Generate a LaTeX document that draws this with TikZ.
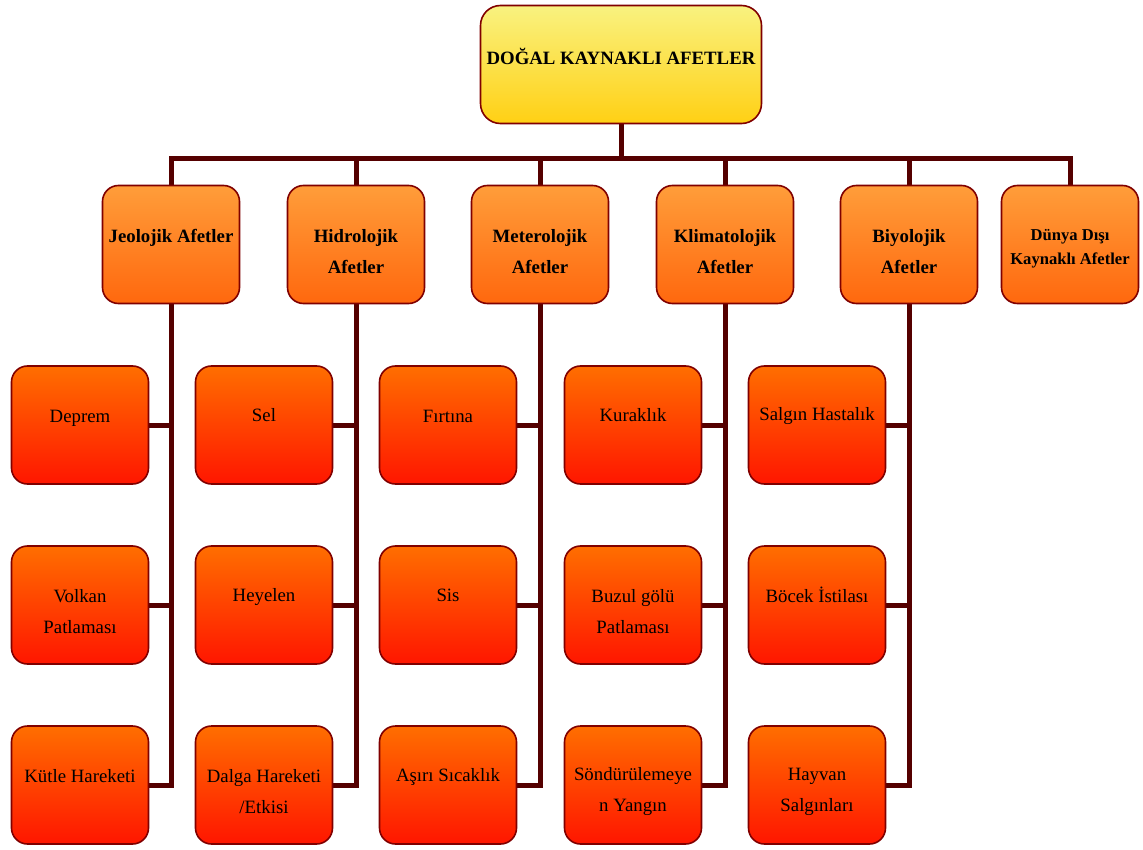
\documentclass[tikz,border=0pt]{standalone}
\usepackage{fontspec}
\setmainfont{Liberation Serif}
\usetikzlibrary{backgrounds}
\definecolor{edgecol}{RGB}{128,0,0}
\definecolor{conncol}{RGB}{85,0,0}
\definecolor{topA}{RGB}{249,242,128}
\definecolor{topB}{RGB}{255,208,20}
\definecolor{midA}{RGB}{255,157,58}
\definecolor{midB}{RGB}{255,104,14}
\definecolor{lowA}{RGB}{255,110,0}
\definecolor{lowB}{RGB}{255,22,0}
\tikzset{
  basebox/.style={draw=edgecol, line width=1.6pt, rounded corners=16pt, minimum width=137pt, minimum height=118pt, inner sep=0pt},
  rootbox/.style={basebox, rounded corners=20pt, minimum width=281pt, top color=topA, bottom color=topB},
  catbox/.style={basebox, top color=midA, bottom color=midB},
  itembox/.style={basebox, top color=lowA, bottom color=lowB},
  lbl/.style={inner sep=0pt, align=center, font=\fontsize{18.8}{31}\selectfont},
  blbl/.style={lbl, font=\fontsize{18.8}{31}\selectfont\bfseries},
  slbl/.style={lbl, font=\fontsize{16.6}{24}\selectfont\bfseries},
  conn/.style={draw=conncol, line width=5pt, line join=miter},
}
\begin{document}
\begin{tikzpicture}[x=1pt, y=-1pt]
\useasboundingbox (0,0) rectangle (1143,850);
% root
\node[rootbox] (root) at (621,64.5) {};
\node[blbl] (root-t) at (621,56.5) {DOĞAL KAYNAKLI AFETLER};
% categories
\node[catbox] (jeo) at (171,244.5) {};
\node[blbl] (jeo-t) at (171,238) {Jeolojik Afetler};
\node[catbox] (hid) at (356,244.5) {};
\node[blbl] (hid-t) at (356,251.5) {Hidrolojik\\Afetler};
\node[catbox] (met) at (540,244.5) {};
\node[blbl] (met-t) at (540,251.5) {Meterolojik\\Afetler};
\node[catbox] (kli) at (725,244.5) {};
\node[blbl] (kli-t) at (725,251.5) {Klimatolojik\\Afetler};
\node[catbox] (biy) at (909,244.5) {};
\node[blbl] (biy-t) at (909,251.5) {Biyolojik\\Afetler};
\node[catbox] (dun) at (1070,244.5) {};
\node[slbl] (dun-t) at (1070,249) {Dünya Dışı\\Kaynaklı Afetler};
% items: Jeolojik
\node[itembox] (dep) at (80,425) {};
\node[lbl] (dep-t) at (80,418) {Deprem};
\node[itembox] (vol) at (80,605) {};
\node[lbl] (vol-t) at (80,611.5) {Volkan\\Patlaması};
\node[itembox] (kut) at (80,785) {};
\node[lbl] (kut-t) at (80,776) {Kütle Hareketi};
% Hidrolojik
\node[itembox] (sel) at (264,425) {};
\node[lbl] (sel-t) at (264,415.5) {Sel};
\node[itembox] (hey) at (264,605) {};
\node[lbl] (hey-t) at (264,597) {Heyelen};
\node[itembox] (dal) at (264,785) {};
\node[lbl] (dal-t) at (264,791.5) {Dalga Hareketi\\/Etkisi};
% Meterolojik
\node[itembox] (fir) at (448,425) {};
\node[lbl] (fir-t) at (448,416.5) {Fırtına};
\node[itembox] (sis) at (448,605) {};
\node[lbl] (sis-t) at (448,595.5) {Sis};
\node[itembox] (asi) at (448,785) {};
\node[lbl] (asi-t) at (448,777) {Aşırı Sıcaklık};
% Klimatolojik
\node[itembox] (kur) at (633,425) {};
\node[lbl] (kur-t) at (633,415.5) {Kuraklık};
\node[itembox] (buz) at (633,605) {};
\node[lbl] (buz-t) at (633,611.5) {Buzul gölü\\Patlaması};
\node[itembox] (son) at (633,785) {};
\node[lbl] (son-t) at (633,791.5) {Söndürülemeye\\n Yangın};
% Biyolojik
\node[itembox] (sal) at (817,425) {};
\node[lbl] (sal-t) at (817,416.5) {Salgın Hastalık};
\node[itembox] (boc) at (817,605) {};
\node[lbl] (boc-t) at (817,595) {Böcek İstilası};
\node[itembox] (hay) at (817,785) {};
\node[lbl] (hay-t) at (817,791.5) {Hayvan\\Salgınları};
% connectors
\begin{pgfonlayer}{background}
\coordinate (bar) at (621,158.5);
\draw[conn] (root.south) -- (bar);
\foreach \c in {jeo,hid,met,kli,biy,dun} \draw[conn] (bar) -| (\c.north);
\draw[conn] (jeo.south) |- (kut.east);
\draw[conn] (dep.east) -- (dep.east -| jeo.south);
\draw[conn] (vol.east) -- (vol.east -| jeo.south);
\draw[conn] (hid.south) |- (dal.east);
\draw[conn] (sel.east) -- (sel.east -| hid.south);
\draw[conn] (hey.east) -- (hey.east -| hid.south);
\draw[conn] (met.south) |- (asi.east);
\draw[conn] (fir.east) -- (fir.east -| met.south);
\draw[conn] (sis.east) -- (sis.east -| met.south);
\draw[conn] (kli.south) |- (son.east);
\draw[conn] (kur.east) -- (kur.east -| kli.south);
\draw[conn] (buz.east) -- (buz.east -| kli.south);
\draw[conn] (biy.south) |- (hay.east);
\draw[conn] (sal.east) -- (sal.east -| biy.south);
\draw[conn] (boc.east) -- (boc.east -| biy.south);
\end{pgfonlayer}
\end{tikzpicture}
\end{document}
